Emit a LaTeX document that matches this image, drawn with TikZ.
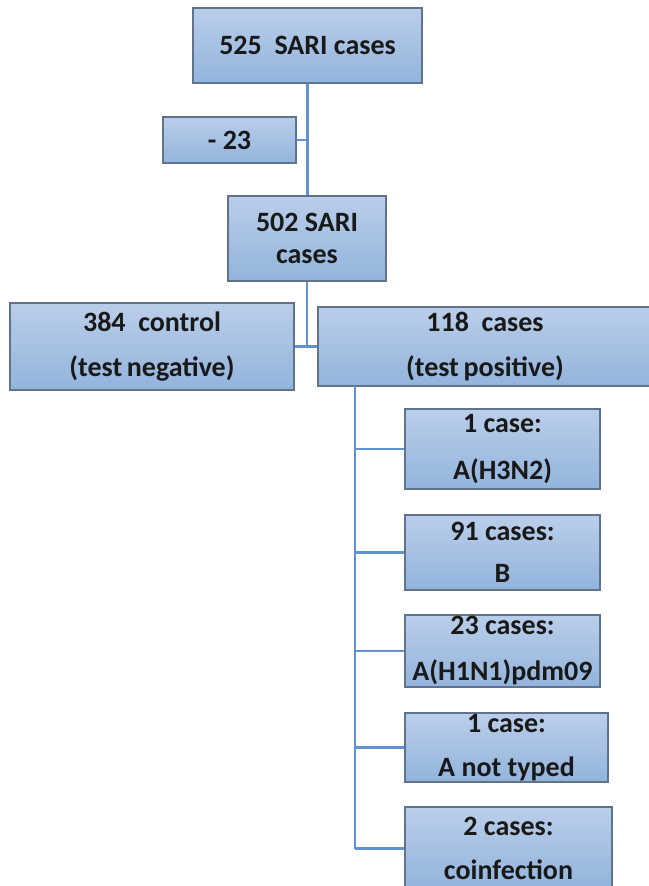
\documentclass[tikz,border=0pt]{standalone}
\usepackage{fontspec}
\setmainfont{Carlito}
\usepackage{tikz}

\definecolor{boxtop}{RGB}{186,206,234}
\definecolor{boxbot}{RGB}{146,180,220}
\definecolor{boxline}{RGB}{96,114,140}
\definecolor{linkcol}{RGB}{95,147,205}
\definecolor{inkcol}{RGB}{25,25,25}

\begin{document}
\begin{tikzpicture}[x=0.75pt,y=0.75pt,yscale=-1,xscale=1,
  flowbox/.style={draw=boxline,line width=1.1pt,top color=boxtop,bottom color=boxbot,
    rectangle,align=center,inner sep=0pt,text=inkcol,
    font=\fontsize{21}{24.5}\selectfont\bfseries},
  link/.style={draw=linkcol,line width=2pt},
  sublink/.style={draw=linkcol,line width=1.6pt}]
\useasboundingbox (0,0) rectangle (649,886);

%top of the chart
\node [flowbox,minimum width=171.75pt,minimum height=56.25pt] (all) at (307.5,45.5) {525~ SARI cases};
\node [flowbox,minimum width=99.75pt,minimum height=34.5pt] (excl) at (229.5,140) {- 23};
\node [flowbox,minimum width=118.5pt,minimum height=63.75pt] (kept) at (307,238.5) {502 SARI\\cases};

%split into controls and cases
\node [flowbox,minimum width=213pt,minimum height=65.25pt] (neg) at (152,346.5) {384~ control\\[9pt](test\,negative)};
\node [flowbox,minimum width=250.5pt,minimum height=59.25pt] (pos) at (485,346.5) {118~ cases\\[9pt](test\,positive)};

%virus types
\node [flowbox,minimum width=146.25pt,minimum height=60pt] (h3) at (502.5,449) {1 case:\\[11pt]A(H3N2)};
\node [flowbox,minimum width=146.25pt,minimum height=56.25pt] (flub) at (502.5,552.5) {91 cases:\\[7pt]B};
\node [flowbox,minimum width=146.25pt,minimum height=54pt] (h1) at (502.5,651) {23 cases:\\[10pt]A(H1N1)pdm09};
\node [flowbox,minimum width=152.25pt,minimum height=51.75pt] (nt) at (506.5,747.5) {1 case:\\[9pt]A not typed};
\node [flowbox,minimum width=155.25pt,minimum height=62.25pt] (coinf) at (508.5,848.5) {2 cases:\\[9pt]coinfection};

%connectors
\draw [link] (all.south) -- (all.south |- kept.north);
\draw [link] (excl.east) -- (excl.east -| all.south);
\draw [link] (kept.south) -- (kept.south |- neg.east);
\draw [link] (neg.east) -- (pos.west);
\coordinate (trunk) at (355,386);
\draw [sublink] (trunk) -- (trunk |- coinf.west);
\foreach \kid in {h3,flub,h1,nt,coinf}
  \draw [sublink] (trunk |- \kid.west) -- (\kid.west);

\end{tikzpicture}
\end{document}
